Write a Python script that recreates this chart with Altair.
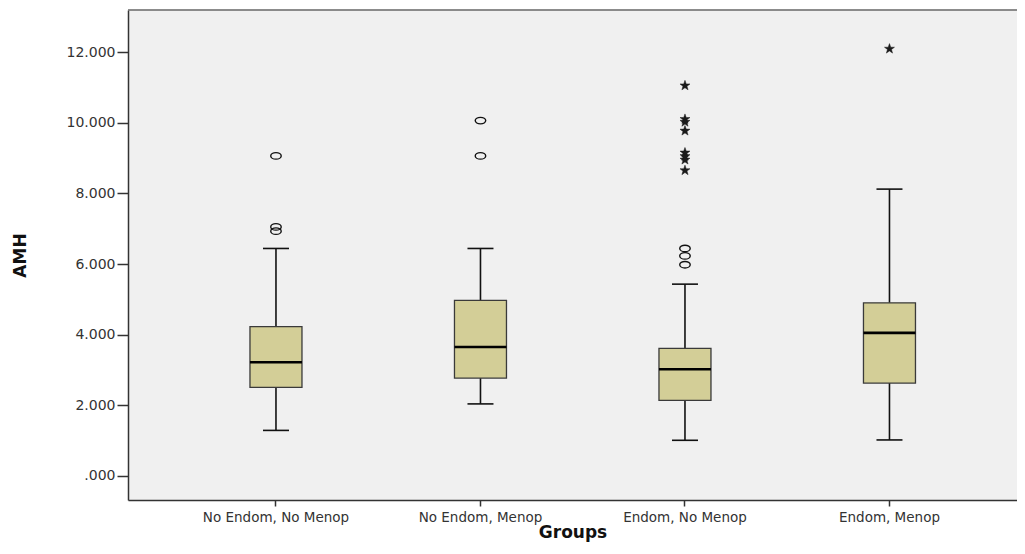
import altair as alt
import pandas as pd

# ---- data ----
groups = ["No Endom, No Menop", "No Endom, Menop", "Endom, No Menop", "Endom, Menop"]
lower_whisker = [1.29, 2.04, 1.01, 1.02]
q1 = [2.51, 2.77, 2.14, 2.63]
median = [3.22, 3.65, 3.02, 4.05]
q3 = [4.23, 4.97, 3.61, 4.90]
upper_whisker = [6.44, 6.44, 5.43, 8.12]

# mild outliers (circles)
circle_groups = ["No Endom, No Menop", "No Endom, No Menop", "No Endom, No Menop",
                 "No Endom, Menop", "No Endom, Menop",
                 "Endom, No Menop", "Endom, No Menop", "Endom, No Menop"]
circle_values = [9.06, 7.05, 6.93, 10.06, 9.06, 6.44, 6.23, 5.98]

# extreme outliers (stars)
star_groups = ["Endom, No Menop"] * 8 + ["Endom, Menop"]
star_values = [11.05, 10.10, 10.02, 9.77, 9.15, 9.05, 8.95, 8.65, 12.09]

y_ticks = [0, 2, 4, 6, 8, 10, 12]

box_df = pd.DataFrame({
    "group": groups, "lo": lower_whisker, "q1": q1, "med": median,
    "q3": q3, "hi": upper_whisker,
})
circ_df = pd.DataFrame({"group": circle_groups, "value": circle_values})
star_df = pd.DataFrame({"group": star_groups, "value": star_values})
frame_df = pd.DataFrame({"a": [0]})

W, H = 889, 490

x_enc = alt.X(
    "group:N", sort=groups, title="Groups",
    scale=alt.Scale(paddingInner=0, paddingOuter=0.1736, align=0.644),
    axis=alt.Axis(labelAngle=0, labelFont="DejaVu Sans", labelFontSize=13.5,
                  labelColor="#333333", labelPadding=4, tickSize=6,
                  tickColor="#333333", tickWidth=1.5, domainColor="#333333",
                  domainWidth=1.5, titleFont="DejaVu Sans", titleFontSize=17,
                  titleFontWeight="bold", titleColor="#111111", titlePadding=1),
)
y_scale = alt.Scale(domain=[-0.68, 13.19], nice=False, zero=False)
y_axis = alt.Axis(values=y_ticks, grid=False, title="AMH",
                  labelExpr="datum.value == 0 ? '.000' : format(datum.value, '.3f')",
                  labelFont="DejaVu Sans", labelFontSize=14, labelColor="#333333",
                  labelPadding=2, tickSize=11, tickColor="#333333", tickWidth=1.5,
                  domainColor="#333333", domainWidth=1.5,
                  titleFont="DejaVu Sans", titleFontSize=17, titleFontWeight="bold",
                  titleColor="#111111", titleX=-108, titleY=245, titleAngle=-90,
                  titleAlign="center", titleBaseline="middle")

base = alt.Chart(box_df)

whisk_low = base.mark_rule(color="#111111", strokeWidth=1.6, opacity=1).encode(
    x=x_enc, y=alt.Y("lo:Q", scale=y_scale, axis=y_axis), y2="q1:Q")
whisk_high = base.mark_rule(color="#111111", strokeWidth=1.6, opacity=1).encode(
    x=x_enc, y=alt.Y("q3:Q", scale=y_scale, axis=y_axis), y2="hi:Q")
cap_low = base.mark_tick(color="#111111", size=26, thickness=1.6, opacity=1).encode(
    x=x_enc, y=alt.Y("lo:Q", scale=y_scale, axis=y_axis))
cap_high = base.mark_tick(color="#111111", size=26, thickness=1.6, opacity=1).encode(
    x=x_enc, y=alt.Y("hi:Q", scale=y_scale, axis=y_axis))
boxes = base.mark_bar(size=52, fill="#D3CE97", stroke="#3a3a3a", strokeWidth=1.3,
                      opacity=1).encode(
    x=x_enc, y=alt.Y("q1:Q", scale=y_scale, axis=y_axis), y2="q3:Q")
medians = base.mark_tick(color="#000000", size=52, thickness=2.6, opacity=1).encode(
    x=x_enc, y=alt.Y("med:Q", scale=y_scale, axis=y_axis))

ellipse = "M-1,0 A1,0.62 0 1,0 1,0 A1,0.62 0 1,0 -1,0 Z"
circles = alt.Chart(circ_df).mark_point(
    shape=ellipse, filled=False, stroke="#111111", strokeWidth=1.4, size=110,
    opacity=1).encode(x=x_enc, y=alt.Y("value:Q", scale=y_scale, axis=y_axis))

star_path = ("M0,-1 L0.235,-0.324 L0.951,-0.309 L0.380,0.124 L0.588,0.809 "
             "L0,0.4 L-0.588,0.809 L-0.380,0.124 L-0.951,-0.309 L-0.235,-0.324 Z")
stars = alt.Chart(star_df).mark_point(
    shape=star_path, filled=True, fill="#1a1a1a", stroke="#1a1a1a",
    strokeWidth=0.5, size=110, opacity=1).encode(
    x=x_enc, y=alt.Y("value:Q", scale=y_scale, axis=y_axis))

top_border = alt.Chart(frame_df).mark_rule(color="#666666", strokeWidth=1.5).encode(
    x=alt.value(0), x2=alt.value(W), y=alt.value(0))

chart = alt.layer(
    whisk_low, whisk_high, cap_low, cap_high, boxes, medians, circles, stars, top_border
).properties(
    width=W, height=H,
    autosize=alt.AutoSizeParams(type="none"),
    padding={"left": 120, "top": 2, "right": 0, "bottom": 46},
    background="white",
).configure_view(fill="#F0F0F0", stroke="transparent")

chart.save("out.html", embed_options={"renderer": "svg", "actions": False})
